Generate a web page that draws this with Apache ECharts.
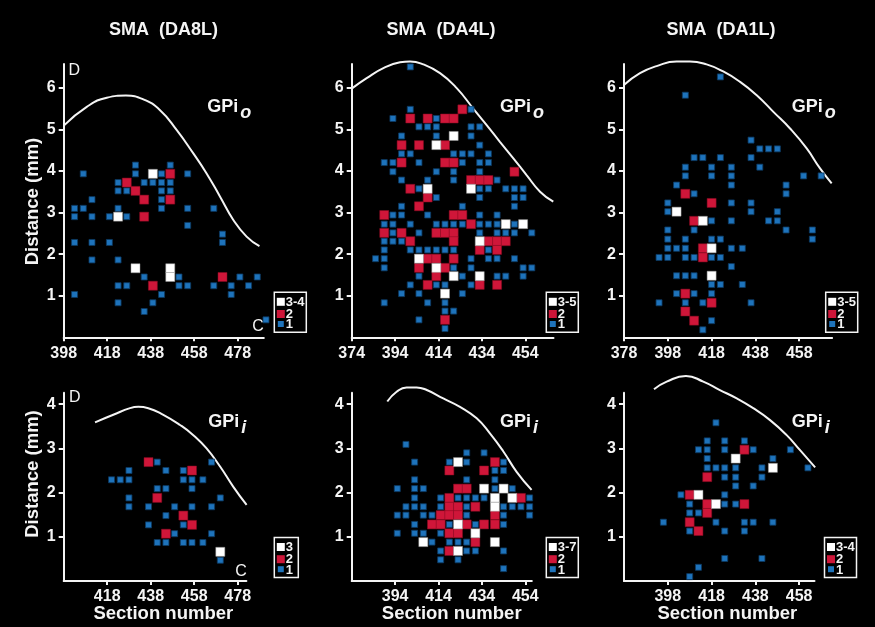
<!DOCTYPE html>
<html>
<head>
<meta charset="utf-8">
<script src="https://cdn.jsdelivr.net/npm/echarts@6/dist/echarts.min.js"></script>
<style>
  html, body { margin: 0; padding: 0; background: #000; }
  #chart { width: 875px; height: 627px; }
</style>
</head>
<body>
<div id="chart"></div>
<script>
// ---------- data: [section number, distance (mm)] ----------
// SMA (DA8L), GPi outer segment
const da8lOuterBlue = [
  [431,4.14],[447,4.14],
  [407,3.93],[431,3.93],[443,3.93],[455,3.93],
  [423,3.72],[435,3.72],[439,3.72],[443,3.72],[447,3.72],
  [423,3.52],[427,3.52],[443,3.52],[447,3.52],
  [411,3.31],[443,3.31],
  [403,3.10],[407,3.10],[423,3.10],[443,3.10],[455,3.10],[467,3.10],
  [403,2.90],[411,2.90],[419,2.90],[427,2.90],
  [455,2.69],
  [471,2.48],
  [403,2.28],[411,2.28],[419,2.28],[471,2.28],
  [411,1.86],[423,1.86],
  [435,1.45],[451,1.45],[479,1.45],[487,1.45],
  [423,1.24],[427,1.24],[451,1.24],[455,1.24],[467,1.24],[475,1.24],[483,1.24],
  [403,1.03],[443,1.03],[475,1.03],
  [423,0.83],[439,0.83],
  [435,0.62],
  [491,0.42]
];
const da8lOuterRed = [[447,3.93],[427,3.72],[431,3.52],[435,3.31],[447,3.31],[435,2.90],[471,1.45],[439,1.24]];
const da8lOuterWhite = [[439,3.93],[423,2.90],[431,1.66],[447,1.66],[447,1.45]];
const da8lOuterOutline = [[398.3,5.10],[408.6,5.54],[417.8,5.76],[426.6,5.81],[434.6,5.72],[442.3,5.46],[450,4.98],[457.6,4.42],[463.7,3.94],[469.9,3.38],[476,2.82],[482.1,2.42],[488,2.19]];

// SMA (DA4L), GPi outer segment
const da4lOuterBlue = [
  [401,6.50],
  [401,5.48],[429,5.48],
  [393,5.26],[413,5.26],
  [405,5.06],[409,5.06],[413,5.06],[429,5.06],[433,5.06],
  [397,4.84],[413,4.84],[429,4.84],
  [433,4.62],
  [397,4.41],[401,4.41],[421,4.41],[425,4.41],[429,4.41],[437,4.41],
  [389,4.20],[393,4.20],[405,4.20],[425,4.20],[433,4.20],[437,4.20],
  [393,3.98],[413,3.98],[421,3.98],[433,3.98],
  [397,3.78],[409,3.78],[421,3.78],[441,3.78],
  [405,3.57],[433,3.57],[437,3.57],[445,3.57],[449,3.57],[453,3.57],
  [413,3.36],[433,3.36],[449,3.36],[453,3.36],
  [397,3.15],[425,3.15],[449,3.15],
  [393,2.94],[397,2.94],[409,2.94],[433,2.94],[441,2.94],
  [389,2.72],[393,2.72],[401,2.72],[413,2.72],[417,2.72],[421,2.72],[425,2.72],[433,2.72],[437,2.72],[441,2.72],[449,2.72],
  [393,2.51],[405,2.51],[433,2.51],[441,2.51],[445,2.51],[449,2.51],[457,2.51],
  [389,2.31],[393,2.31],[397,2.31],
  [389,2.10],[401,2.10],[405,2.10],[409,2.10],[413,2.10],[417,2.10],[421,2.10],[437,2.10],
  [385,1.89],[389,1.89],[429,1.89],[437,1.89],[441,1.89],[449,1.89],
  [389,1.67],[421,1.67],[429,1.67],[453,1.67],[457,1.67],
  [405,1.47],[425,1.47],[441,1.47],[445,1.47],[453,1.47],
  [401,1.26],[413,1.26],[417,1.26],[429,1.26],
  [397,1.05],[405,1.05],[425,1.05],
  [389,0.83],[409,0.83],[417,0.83],
  [417,0.63],[421,0.63],
  [405,0.42],
  [417,0.21]
];
const da4lOuterRed = [
  [425,5.48],
  [401,5.26],[409,5.26],[417,5.26],[421,5.26],
  [397,4.62],[405,4.62],[417,4.62],
  [397,4.20],[417,4.20],[421,4.20],
  [449,3.98],
  [429,3.78],[433,3.78],[437,3.78],
  [401,3.57],
  [409,3.36],
  [405,3.15],
  [389,2.94],[421,2.94],[425,2.94],
  [429,2.72],
  [389,2.51],[397,2.51],[413,2.51],[417,2.51],[421,2.51],
  [401,2.31],[421,2.31],[437,2.31],[441,2.31],[445,2.31],
  [433,2.10],[441,2.10],
  [409,1.89],[413,1.89],[421,1.89],
  [405,1.67],[417,1.67],
  [413,1.47],
  [409,1.26],[433,1.26],[441,1.26],
  [417,0.42]
];
const da4lOuterWhite = [[421,4.84],[413,4.62],[409,3.57],[429,3.57],[445,2.72],[453,2.72],[433,2.31],[405,1.89],[413,1.67],[421,1.47],[433,1.47],[417,1.05]];
const da4lOuterOutline = [[374.3,5.99],[380.9,6.23],[388.6,6.47],[396.3,6.61],[400.9,6.63],[407,6.56],[414.7,6.35],[422.4,5.99],[430,5.50],[436.2,5.10],[442.3,4.70],[448.5,4.30],[454.6,3.90],[460.8,3.50],[466.9,3.26]];

// SMA (DA1L), GPi outer segment
const da1lOuterBlue = [
  [422,6.26],[406,5.82],[436,4.74],
  [440,4.53],[444,4.53],[448,4.53],
  [410,4.32],[414,4.32],[422,4.32],[436,4.32],
  [406,4.09],[418,4.09],[427,4.09],[440,4.09],
  [406,3.88],[418,3.88],[427,3.88],[460,3.88],[468,3.88],
  [402,3.66],[427,3.66],[452,3.66],
  [410,3.45],[452,3.45],
  [398,3.23],[427,3.23],[436,3.23],
  [398,3.02],[436,3.02],[448,3.02],
  [418,2.80],[427,2.80],[444,2.80],[448,2.80],
  [398,2.58],[410,2.58],[452,2.58],[464,2.58],
  [398,2.36],[406,2.36],[418,2.36],[422,2.36],[464,2.36],
  [398,2.14],[402,2.14],[406,2.14],[427,2.14],[432,2.14],
  [394,1.92],[398,1.92],[406,1.92],[410,1.92],[418,1.92],[422,1.92],
  [427,1.70],
  [402,1.48],[406,1.48],[410,1.48],
  [418,1.27],[422,1.27],[432,1.27],
  [402,1.05],[410,1.05],[418,1.05],
  [394,0.83],[406,0.83],[414,0.83],[436,0.83],
  [418,0.40],
  [414,0.18]
];
const da1lOuterRed = [[406,3.45],[418,3.23],[410,2.80],[414,2.14],[414,1.92],[406,1.05],[418,0.83],[406,0.62],[410,0.40]];
const da1lOuterWhite = [[402,3.02],[414,2.80],[418,2.14],[418,1.48]];
const da1lOuterOutline = [[378.1,6.07],[385.3,6.35],[392.9,6.52],[402,6.63],[408.1,6.63],[415.7,6.56],[423.3,6.39],[431,6.14],[438.6,5.82],[446.2,5.42],[453.8,5.02],[461.4,4.54],[467.5,4.06],[472.8,3.70]];

// SMA (DA8L), GPi inner segment
const da8lInnerBlue = [
  [441,2.69],[466,2.69],
  [428,2.50],[445,2.50],[453,2.50],
  [420,2.29],[424,2.29],[428,2.29],[453,2.29],[457,2.29],[462,2.29],
  [441,2.09],[445,2.09],[457,2.09],
  [428,1.88],[470,1.88],
  [428,1.68],[437,1.68],[449,1.68],[457,1.68],[466,1.68],
  [445,1.48],
  [437,1.27],[453,1.27],
  [449,1.07],[466,1.07],
  [441,0.87],[445,0.87],[453,0.87],[457,0.87],[462,0.87],
  [470,0.47]
];
const da8lInnerRed = [[437,2.69],[457,2.50],[441,1.88],[453,1.48],[457,1.27],[445,1.07]];
const da8lInnerWhite = [[470,0.66]];
const da8lInnerOutline = [[412.4,3.59],[420.8,3.76],[428.5,3.91],[432.3,3.94],[436.9,3.91],[443.8,3.76],[451.5,3.53],[457.6,3.30],[463.7,3.00],[469.9,2.59],[476,2.13],[482.1,1.72]];

// SMA (DA4L), GPi inner segment
const da4lInnerBlue = [
  [399,3.09],[427,2.90],[435,2.90],
  [403,2.69],[419,2.69],[427,2.69],[444,2.69],
  [440,2.50],[444,2.50],
  [403,2.29],[427,2.29],[440,2.29],
  [395,2.09],[403,2.09],[407,2.09],[440,2.09],[448,2.09],
  [403,1.88],[415,1.88],[423,1.88],[427,1.88],[431,1.88],[435,1.88],[456,1.88],
  [399,1.68],[403,1.68],[407,1.68],[415,1.68],[427,1.68],[444,1.68],[448,1.68],[452,1.68],[456,1.68],
  [395,1.49],[399,1.49],[407,1.49],[411,1.49],[427,1.49],[444,1.49],[456,1.49],
  [403,1.28],[419,1.28],[431,1.28],[444,1.28],
  [395,1.08],[403,1.08],[407,1.08],[415,1.08],
  [411,0.88],[419,0.88],[423,0.88],[427,0.88],
  [415,0.68],[427,0.68],[431,0.68],[444,0.68],
  [415,0.48],[423,0.48],
  [444,0.28]
];
const da4lInnerRed = [
  [440,2.69],[419,2.50],[435,2.50],[423,2.09],[427,2.09],[419,1.88],[452,1.88],
  [419,1.68],[423,1.68],[431,1.68],[415,1.49],[419,1.49],[423,1.49],[440,1.49],
  [411,1.28],[415,1.28],[427,1.28],[435,1.28],[440,1.28],[419,1.08],[423,1.08],
  [431,0.88],[419,0.68]
];
const da4lInnerWhite = [[423,2.69],[435,2.09],[444,2.09],[440,1.88],[448,1.88],[440,1.68],[423,1.28],[431,1.08],[407,0.88],[440,0.88],[423,0.68]];
const da4lInnerOutline = [[390.4,4.06],[394.7,4.28],[399.3,4.38],[403.9,4.38],[408.6,4.32],[416.2,4.13],[423.9,3.94],[431.6,3.68],[437.7,3.34],[443.9,2.93],[450,2.47],[456.9,2.06]];

// SMA (DA1L), GPi inner segment
const da1lInnerBlue = [
  [420,3.58],
  [416,3.17],[424,3.17],[433,3.17],
  [412,2.97],[416,2.97],[424,2.97],[437,2.97],[454,2.97],
  [416,2.77],[446,2.77],
  [416,2.56],[420,2.56],[424,2.56],[429,2.56],[441,2.56],[462,2.56],
  [424,2.35],[429,2.35],[441,2.35],
  [429,2.15],[437,2.15],
  [404,1.95],[424,1.95],
  [408,1.74],[424,1.74],[429,1.74],
  [408,1.54],[412,1.54],
  [396,1.33],[420,1.33],[433,1.33],[437,1.33],[446,1.33],
  [408,1.13],[424,1.13],[433,1.13],
  [424,0.51],[441,0.51],
  [412,0.31],
  [408,0.10]
];
const da1lInnerRed = [[433,2.97],[416,2.35],[408,1.95],[416,1.74],[433,1.74],[416,1.54],[408,1.33],[412,1.13]];
const da1lInnerWhite = [[429,2.77],[446,2.56],[412,1.95],[420,1.74]];
const da1lInnerOutline = [[391.7,4.34],[397.5,4.51],[406.3,4.64],[414.2,4.51],[421.8,4.32],[429.5,4.13],[437,3.91],[444.7,3.64],[452.3,3.30],[458.4,2.96],[465.3,2.57]];

// tick labels
const outerDistanceTicks = [1, 2, 3, 4, 5, 6];
const innerDistanceTicks = [1, 2, 3, 4];
const da8lOuterSectionTicks = [398, 418, 438, 458, 478];
const da4lOuterSectionTicks = [374, 394, 414, 434, 454];
const da1lOuterSectionTicks = [378, 398, 418, 438, 458];
const da8lInnerSectionTicks = [418, 438, 458, 478];
const da4lInnerSectionTicks = [394, 414, 434, 454];
const da1lInnerSectionTicks = [398, 418, 438, 458];

const panelTitles = ['SMA  (DA8L)', 'SMA  (DA4L)', 'SMA  (DA1L)'];
const legendLabels = ['3-4', '3-5', '3-5', '3', '3-7', '3-4'];

// ---------- layout ----------
const FONT = '"Liberation Sans", Arial, Helvetica, sans-serif';
const FG = '#f4f4f4';
const BLUE = '#1e73bb', RED = '#cf1639', WHITE = '#ffffff';

const panels = [
  { blue: da8lOuterBlue, red: da8lOuterRed, white: da8lOuterWhite, outline: da8lOuterOutline,
    grid: { left: 63.7, top: 64.0, width: 200.1, height: 273.3 }, x: [398, 490], y: [0, 6.57],
    xt: da8lOuterSectionTicks, yt: outerDistanceTicks, sub: 'o' },
  { blue: da4lOuterBlue, red: da4lOuterRed, white: da4lOuterWhite, outline: da4lOuterOutline,
    grid: { left: 351.7, top: 64.0, width: 201.8, height: 273.3 }, x: [374, 467], y: [0, 6.57],
    xt: da4lOuterSectionTicks, yt: outerDistanceTicks, sub: 'o' },
  { blue: da1lOuterBlue, red: da1lOuterRed, white: da1lOuterWhite, outline: da1lOuterOutline,
    grid: { left: 624, top: 64.0, width: 208.1, height: 273.3 }, x: [378, 473], y: [0, 6.57],
    xt: da1lOuterSectionTicks, yt: outerDistanceTicks, sub: 'o' },
  { blue: da8lInnerBlue, red: da8lInnerRed, white: da8lInnerWhite, outline: da8lInnerOutline,
    grid: { left: 63.7, top: 392.7, width: 182.7, height: 188.3 }, x: [398, 482], y: [0, 4.26],
    xt: da8lInnerSectionTicks, yt: innerDistanceTicks, sub: 'i' },
  { blue: da4lInnerBlue, red: da4lInnerRed, white: da4lInnerWhite, outline: da4lInnerOutline,
    grid: { left: 351.7, top: 392.7, width: 180.1, height: 188.3 }, x: [374, 457], y: [0, 4.26],
    xt: da4lInnerSectionTicks, yt: innerDistanceTicks, sub: 'i' },
  { blue: da1lInnerBlue, red: da1lInnerRed, white: da1lInnerWhite, outline: da1lInnerOutline,
    grid: { left: 624, top: 392.7, width: 190.5, height: 188.3 }, x: [378, 465], y: [0, 4.26],
    xt: da1lInnerSectionTicks, yt: innerDistanceTicks, sub: 'i' }
];

const axisLineStyle = { color: FG, width: 2 };
const grids = [], xAxes = [], yAxes = [], series = [];

panels.forEach((p, i) => {
  grids.push(Object.assign({ containLabel: false, outerBoundsMode: 'none' }, p.grid));
  xAxes.push({
    type: 'value', gridIndex: i, min: p.x[0], max: p.x[1],
    axisLine: { show: true, onZero: false, lineStyle: axisLineStyle },
    axisTick: { show: true, customValues: p.xt, length: 4, lineStyle: axisLineStyle },
    axisLabel: { customValues: p.xt, color: FG, fontFamily: FONT, fontWeight: 'bold', fontSize: 16, margin: 8 },
    splitLine: { show: false }
  });
  yAxes.push({
    type: 'value', gridIndex: i, min: p.y[0], max: p.y[1],
    axisLine: { show: true, onZero: false, lineStyle: axisLineStyle },
    axisTick: { show: true, customValues: p.yt, length: 5, lineStyle: axisLineStyle },
    axisLabel: { customValues: p.yt, color: FG, fontFamily: FONT, fontWeight: 'bold', fontSize: 16, margin: 8 },
    splitLine: { show: false }
  });
  series.push({
    type: 'line', xAxisIndex: i, yAxisIndex: i, data: p.outline, smooth: 0.5,
    showSymbol: false, clip: false, silent: true,
    lineStyle: { color: FG, width: 2 }, z: 2
  });
  series.push({
    type: 'scatter', xAxisIndex: i, yAxisIndex: i, data: p.blue, symbol: 'rect', symbolSize: 6,
    clip: false, silent: true, z: 3,
    itemStyle: { color: BLUE, borderColor: '#0c3a62', borderWidth: 0.8, opacity: 1 }
  });
  series.push({
    type: 'scatter', xAxisIndex: i, yAxisIndex: i, data: p.red, symbol: 'rect', symbolSize: 9,
    clip: false, silent: true, z: 4,
    itemStyle: { color: RED, borderColor: '#8a0c22', borderWidth: 0.5, opacity: 1 }
  });
  series.push({
    type: 'scatter', xAxisIndex: i, yAxisIndex: i, data: p.white, symbol: 'rect', symbolSize: 9,
    clip: false, silent: true, z: 5,
    itemStyle: { color: WHITE, borderColor: '#9a9a9a', borderWidth: 0.5, opacity: 1 }
  });
});

// ---------- annotations ----------
const graphic = [];
const txt = (text, x, y, size, opts) => Object.assign({
  type: 'text', x: x, y: y, silent: true,
  style: Object.assign({ text: text, fill: FG, font: 'bold ' + size + 'px ' + FONT, align: 'center', verticalAlign: 'middle' }, (opts && opts.style) || {})
}, opts && opts.extra || {});

// column titles
[163.5, 441, 721].forEach((cx, k) => graphic.push(txt(panelTitles[k], cx, 30, 18)));
// y-axis titles
graphic.push(txt('Distance (mm)', 33.3, 201.5, 18.5, { extra: { rotation: Math.PI / 2 } }));
graphic.push(txt('Distance (mm)', 33.3, 474, 18.5, { extra: { rotation: Math.PI / 2 } }));
// x-axis titles
[163.3, 451.7, 727.3].forEach(cx => graphic.push(txt('Section number', cx, 613.7, 18.5)));
// GPi labels
const gpiPos = [[207.3, 106.7], [500, 106.7], [791.7, 106.7], [208.3, 421.7], [500, 421.7], [791.7, 421.7]];
gpiPos.forEach(([x, y], k) => {
  graphic.push(txt('GPi', x, y, 18, { style: { align: 'left' } }));
  graphic.push(txt(panels[k].sub, x + 33, y + 6.5, 18, { style: { align: 'left', font: 'italic bold 18px ' + FONT } }));
});
// dorsal / caudal markers
graphic.push(txt('D', 74.2, 71, 16, { style: { font: '16px ' + FONT } }));
graphic.push(txt('C', 258, 327, 16, { style: { font: '16px ' + FONT } }));
graphic.push(txt('D', 74.7, 397.5, 16, { style: { font: '16px ' + FONT } }));
graphic.push(txt('C', 241, 571.7, 16, { style: { font: '16px ' + FONT } }));

// legends
const legendPos = [[274.3, 292.3], [546.3, 292.3], [825.7, 292.3], [274.3, 537.5], [546.3, 537.5], [824.5, 537.5]];
legendPos.forEach(([lx, ly], k) => {
  const w = legendLabels[k].length > 1 ? 32 : 24;
  graphic.push({
    type: 'group', x: lx, y: ly, silent: true,
    children: [
      { type: 'rect', shape: { x: 0, y: 0, width: w, height: 40 }, style: { fill: '#000', stroke: FG, lineWidth: 1.5 } },
      { type: 'rect', shape: { x: 2.5, y: 5.5, width: 8, height: 8 }, style: { fill: WHITE } },
      { type: 'rect', shape: { x: 2.5, y: 17.7, width: 8, height: 8 }, style: { fill: RED } },
      { type: 'rect', shape: { x: 3.5, y: 28.7, width: 6, height: 6 }, style: { fill: BLUE } },
      { type: 'text', x: 11.5, y: 9.8, style: { text: legendLabels[k], fill: FG, font: 'bold 13px ' + FONT, align: 'left', verticalAlign: 'middle' } },
      { type: 'text', x: 11.5, y: 22, style: { text: '2', fill: FG, font: 'bold 13px ' + FONT, align: 'left', verticalAlign: 'middle' } },
      { type: 'text', x: 11.5, y: 32.5, style: { text: '1', fill: FG, font: 'bold 13px ' + FONT, align: 'left', verticalAlign: 'middle' } }
    ]
  });
});

const chart = echarts.init(document.getElementById('chart'), null, { renderer: 'canvas' });
chart.setOption({
  backgroundColor: '#000',
  animation: false,
  grid: grids,
  xAxis: xAxes,
  yAxis: yAxes,
  series: series,
  graphic: graphic
});
</script>
</body>
</html>
